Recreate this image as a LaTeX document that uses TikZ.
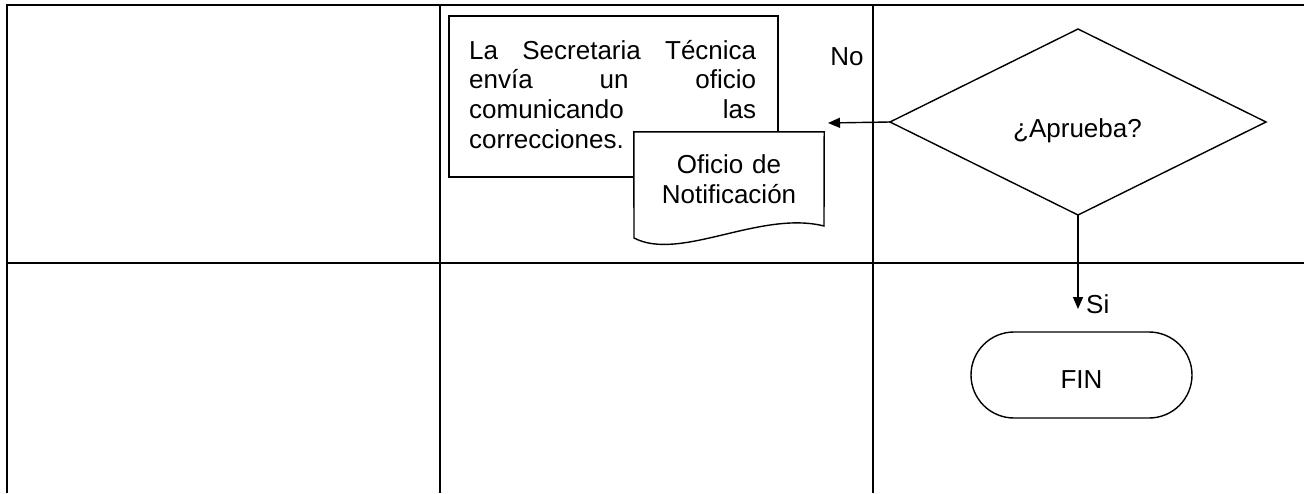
\documentclass[tikz,border=0pt]{standalone}
\usepackage{fontspec}
\setmainfont{Liberation Sans}
\usetikzlibrary{arrows.meta,shapes.geometric}
\begin{document}
\begin{tikzpicture}[x=1pt,y=-1pt,
  grid/.style={line width=2.8pt},
  shp/.style={draw,line width=1.4pt,fill=white},
  conn/.style={line width=1.4pt,-{Triangle[length=12pt,width=10pt]}},
  txt/.style={font=\fontsize{26}{29.7}\selectfont,inner sep=0pt},
  decision/.style={shp,diamond,minimum width=376pt,minimum height=186pt,inner sep=0pt,outer sep=0pt},
  terminal/.style={shp,rectangle,rounded corners=43pt,minimum width=221pt,minimum height=86pt,outer sep=0pt},
  procbox/.style={shp,rectangle,minimum width=329pt,minimum height=161pt,outer sep=0pt}
]
\useasboundingbox (0,0) rectangle (1304,493);
% lanes
\draw[grid] (7,5) -- (1304,5);
\draw[grid] (7,263) -- (1304,263);
\draw[grid] (7,3.6) -- (7,493);
\draw[grid] (440,5) -- (440,493);
\draw[grid] (873,5) -- (873,493);
% process
\node[procbox] (proc) at (613.5,96.5) {};
\node[txt,anchor=base west,text width=287pt,align=left] (proctext) at (469,59)
  {\makebox[287pt][l]{La\hfill Secretaria\hfill Técnica}\\
   \makebox[287pt][l]{envía\hfill un\hfill oficio}\\
   \makebox[287pt][l]{comunicando\hfill las}\\
   correcciones.};
% document
\node[inner sep=0pt,minimum width=190pt,minimum height=106pt] (doc) at (729,185) {};
\draw[shp] (doc.north west) -- (doc.north east) -- (824,226)
  .. controls (760,210) and (680,262) .. (634,238) -- cycle;
\node[txt,font=\fontsize{26}{30}\selectfont,text width=190pt,align=center,anchor=base] (doctext) at (729,173)
  {Oficio de\\Notificación};
% decision
\node[decision] (q) at (1078,122) {};
\node[txt,anchor=base] (qtext) at (1077.5,137) {¿Aprueba?};
\coordinate (noend) at (828,123);
\draw[conn] (q.west) -- (noend);
\node[txt,anchor=base] (no) at (847,65) {No};
% terminal
\coordinate (siend) at (1078,309);
\draw[conn] (q.south) -- (siend);
\node[txt,anchor=base west] (si) at (1086,313) {Si};
\node[terminal] (fin) at (1081.5,375) {};
\node[txt,anchor=base] (fintext) at (1081.5,388) {FIN};
\end{tikzpicture}
\end{document}
